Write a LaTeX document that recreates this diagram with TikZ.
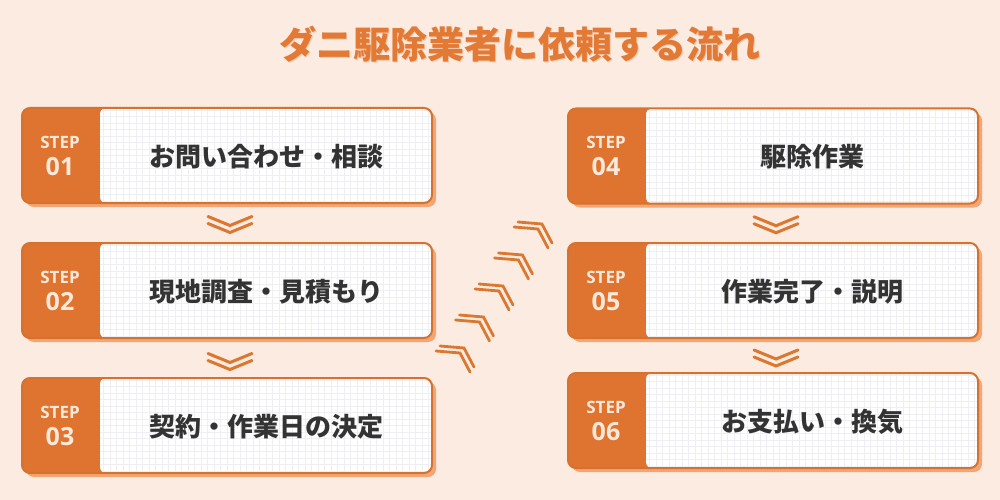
\documentclass[tikz,border=0pt]{standalone}
\usepackage{fontspec}
\newfontfamily\jp{Noto Sans CJK JP}
\newfontfamily\os{Open Sans}
\usetikzlibrary{calc,shadows}
\definecolor{bgcol}{HTML}{FCEBE1}
\definecolor{tabcol}{HTML}{DE7430}
\definecolor{edgecol}{HTML}{D5722F}
\definecolor{shadowcol}{HTML}{F2A675}
\definecolor{gridcol}{HTML}{EDEFF3}
\definecolor{titlecol}{HTML}{E27A36}
\definecolor{titleshadow}{HTML}{EDB08C}
\definecolor{txtcol}{HTML}{333333}
\definecolor{stepcol}{HTML}{FCE9DA}
\definecolor{chevcol}{HTML}{DA7831}
\tikzset{
  stepbox/.style={rectangle, rounded corners=8pt, minimum width=410pt, minimum height=95pt,
    inner sep=0pt, fill=tabcol, draw=edgecol, line width=2pt,
    drop shadow={shadow xshift=4pt, shadow yshift=-4pt, fill=shadowcol, opacity=1},
    path picture={
      \begin{scope}
        \clip[rounded corners=6pt] ([xshift=78pt]path picture bounding box.north west) rectangle (path picture bounding box.south east);
        \fill[white] (path picture bounding box.south west) rectangle (path picture bounding box.north east);
        \draw[gridcol, line width=0.35pt, step=6.5pt] (path picture bounding box.south west) grid (path picture bounding box.north east);
      \end{scope}
    }},
  steptag/.style={anchor=base, inner sep=0pt, text=stepcol, font=\os\bfseries\fontsize{17}{20}\selectfont},
  stepnum/.style={anchor=base, inner sep=0pt, text=stepcol, font=\os\bfseries\fontsize{25}{28}\selectfont},
  steptext/.style={inner sep=0pt, text=txtcol, font=\jp\bfseries\fontsize{26}{30}\selectfont},
  chev/.style={draw=chevcol, line width=3pt, line cap=round, line join=miter},
  dchev/.pic={
    \draw[chev] (-22,-7.5) -- (0,1.5) -- (22,-7.5);
    \draw[chev] (-22,-0.5) -- (0,8.5) -- (22,-0.5);
  },
  diagchev/.pic={
    \draw[chev, line width=2.8pt] (-24,-2) -- (0,0) -- (10,19);
    \draw[chev, line width=2.8pt] (-28,3) -- (-4,5) -- (6,24);
  }
}
\newcommand{\mkstep}[5]{%
  \node[stepbox] (#1) at (#2,#3) {};
  \node[steptag] (#1tag) at ($(#1.west)+(39,-7.5)$) {STEP};
  \node[stepnum] (#1num) at ($(#1.west)+(39,19.5)$) {#4};
  \node[steptext] (#1txt) at ($(#1.center)+(39,1)$) {#5};
}
\begin{document}
\begin{tikzpicture}[x=1pt,y=-1pt]
\fill[bgcol] (0,0) rectangle (1000,500);
\useasboundingbox (0,0) rectangle (1000,500);

\node[text=titleshadow, font=\jp\bfseries\fontsize{37}{42}\selectfont, opacity=0.6] at (521,45.5) {ダニ駆除業者に依頼する流れ};
\node[text=titlecol, font=\jp\bfseries\fontsize{37}{42}\selectfont] (title) at (520,44) {ダニ駆除業者に依頼する流れ};

\mkstep{s1}{227}{155.5}{01}{お問い合わせ・相談}
\mkstep{s2}{227}{290.5}{02}{現地調査・見積もり}
\mkstep{s3}{227}{425.5}{03}{契約・作業日の決定}
\mkstep{s4}{773}{156}{04}{駆除作業}
\mkstep{s5}{773}{290.5}{05}{作業完了・説明}
\mkstep{s6}{773}{420.5}{06}{お支払い・換気}

\pic at ($(s1.south)!0.5!(s2.north)+(3,1)$) {dchev};
\pic at ($(s2.south)!0.5!(s3.north)+(3,3)$) {dchev};
\pic at ($(s4.south)!0.5!(s5.north)+(3,1)$) {dchev};
\pic at ($(s5.south)!0.5!(s6.north)+(3,2)$) {dchev};

\foreach \k in {0,...,4} {
  \pic at ({542-19.5*\k},{224+31*\k}) {diagchev};
}
\end{tikzpicture}
\end{document}
